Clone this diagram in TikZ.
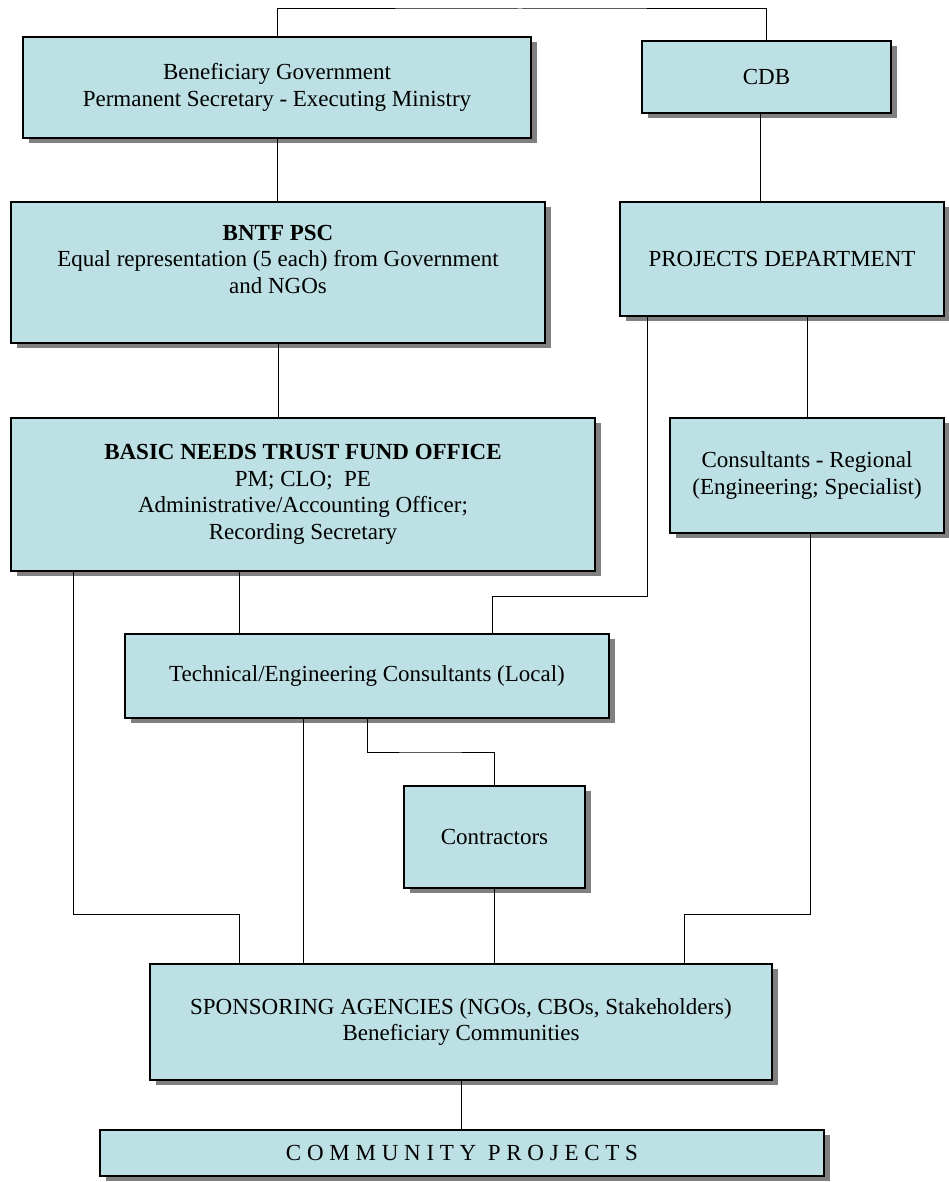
\documentclass[tikz,border=0pt]{standalone}
\usepackage{fontspec}
\setmainfont{Liberation Serif}
\newfontfamily\spacedfont{Liberation Serif}[LetterSpace=25]
\usetikzlibrary{shadows}
\definecolor{boxfill}{RGB}{188,224,227}

\begin{document}
\begin{tikzpicture}[x=1pt, y=-1pt,
  unit/.style={draw, line width=1.3pt, fill=boxfill, align=center, inner sep=0pt,
    drop shadow={shadow xshift=6pt, shadow yshift=-5pt, fill=black!50, opacity=1},
    font=\fontsize{23}{26.5}\selectfont},
  link/.style={line width=1pt}]
  \useasboundingbox (0, 0) rectangle (948, 1182);

  \node[unit, minimum width=508, minimum height=101]
    (gov) at (277, 87.5) {Beneficiary Government\\Permanent Secretary - Executing Ministry};

  \node[unit, minimum width=249, minimum height=72]
    (cdb) at (766.5, 77) {CDB};

  \node[unit, minimum width=534, minimum height=141]
    (psc) at (278, 272.5) {\textbf{BNTF PSC}\\Equal representation (5 each) from Government\\and NGOs\\ \mbox{}};

  \node[unit, minimum width=324, minimum height=114]
    (proj) at (782, 259) {PROJECTS DEPARTMENT};

  \node[unit, minimum width=584, minimum height=153]
    (office) at (303, 494.5) {\textbf{BASIC NEEDS TRUST FUND OFFICE}\\PM; CLO;~ PE\\Administrative/Accounting Officer;\\Recording Secretary};

  \node[unit, minimum width=274, minimum height=115]
    (reg) at (807, 475.5) {Consultants - Regional\\(Engineering; Specialist)};

  \node[unit, minimum width=484, minimum height=84]
    (tech) at (367, 676) {Technical/Engineering Consultants (Local)};

  \node[unit, minimum width=181, minimum height=102]
    (contr) at (494.5, 837) {Contractors};

  \node[unit, minimum width=622, minimum height=116]
    (spon) at (461, 1022) {SPONSORING AGENCIES (NGOs, CBOs, Stakeholders)\\Beneficiary Communities};

  \node[unit, minimum width=724, minimum height=46]
    (comm) at (462, 1153) {\spacedfont COMMUNITY PROJECTS};

  \coordinate (top) at (520, 9);
  \coordinate (B1) at (647, 596);
  \coordinate (B2) at (492, 596);
  \coordinate (L1) at (73, 914);
  \coordinate (L2) at (239, 914);
  \coordinate (T1) at (303, 914);
  \coordinate (K1) at (430, 752);
  \coordinate (R1) at (810, 914);
  \coordinate (R2) at (684, 914);

  \draw[link]
    (gov.north) |- (top) -| (cdb.north)
    (gov.south) -- (gov.south |- psc.north)
    ([xshift=-6.5pt]cdb.south) -- ([xshift=-6.5pt]cdb.south |- proj.north);

  \draw[link]
    (psc.south) -- (psc.south |- office.north)
    (proj.south -| reg.north) -- (reg.north)
    (B1 |- proj.south) -- (B1) -- (B2) -- (B2 |- tech.north);

  \draw[link]
    (L2 |- office.south) -- (L2 |- tech.north)
    (L1 |- office.south) -- (L1) -- (L2) -- (L2 |- spon.north)
    (T1 |- tech.south) -- (T1 |- spon.north)
    (tech.south) |- (K1) -| (contr.north)
    (contr.south) -- (contr.south |- spon.north);

  \draw[link]
    (R1 |- reg.south) -- (R1) -- (R2) -- (R2 |- spon.north)
    (spon.south) -- (spon.south |- comm.north);
\end{tikzpicture}
\end{document}
